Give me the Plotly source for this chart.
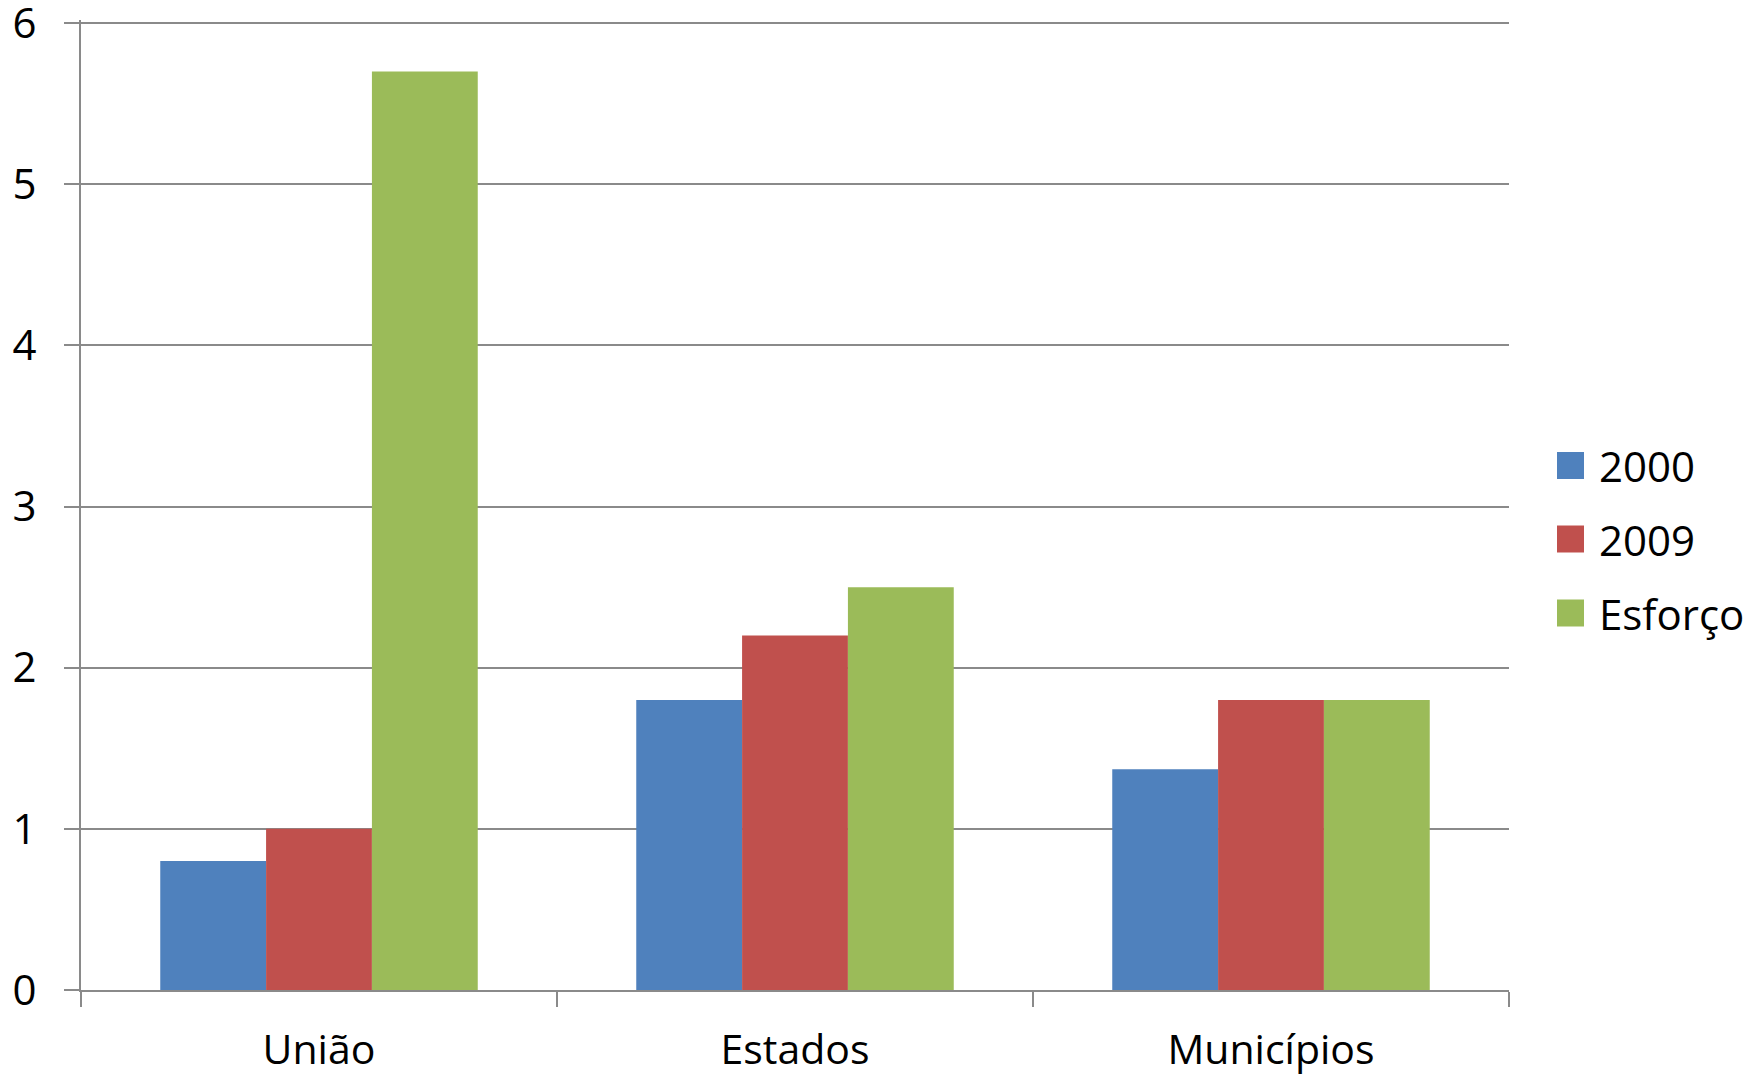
import plotly.graph_objects as go

categories = ["União", "Estados", "Municípios"]
series_names = ["2000", "2009", "Esforço"]
values_2000 = [0.8, 1.8, 1.37]
values_2009 = [1.0, 2.2, 1.8]
values_esforco = [5.7, 2.5, 1.8]
colors = ["#4F81BD", "#C0504D", "#9BBB59"]
y_ticks = [0, 1, 2, 3, 4, 5, 6]

W, H = 1757, 1077
L, R, T, B = 81, 248, 20, 87
FONT = "Open Sans"
GRID = "#8a8a8a"

fig = go.Figure()
for name, vals, col in zip(series_names, [values_2000, values_2009, values_esforco], colors):
    fig.add_trace(go.Bar(x=categories, y=vals, name=name, marker_color=col,
                         marker_line_width=0, showlegend=False))

pw = W - L - R
ph = H - T - B
def px_x(p):
    return (p - L) / pw
def px_y(p):
    return (H - B - p) / ph

shapes = []
annotations = []
legend_centers = [465.5, 539, 613]
for name, col, cy in zip(series_names, colors, legend_centers):
    shapes.append(dict(type="rect", xref="paper", yref="paper",
                       x0=px_x(1557), x1=px_x(1584), y0=px_y(cy + 13.5), y1=px_y(cy - 13.5),
                       fillcolor=col, line_width=0))
    annotations.append(dict(text=name, xref="paper", yref="paper", x=px_x(1597), y=px_y(cy),
                            xanchor="left", yanchor="middle", showarrow=False,
                            font=dict(family=FONT, size=42, color="#000000")))

fig.update_layout(
    width=W, height=H,
    margin=dict(l=L, r=R, t=T, b=B, pad=0, autoexpand=False),
    paper_bgcolor="white", plot_bgcolor="white",
    barmode="group", bargap=0.333, bargroupgap=0,
    showlegend=False,
    font=dict(family=FONT, size=42, color="#000000"),
    shapes=shapes, annotations=annotations,
    xaxis=dict(range=[-0.5, 2.5], showline=True, linecolor=GRID, linewidth=2,
               ticks="outside", tickson="boundaries", ticklen=15, tickcolor=GRID, tickwidth=2,
               showgrid=False, ticklabelstandoff=23, automargin=False,
               ticklabeloverflow="allow",
               tickfont=dict(family=FONT, size=41, color="#000000")),
    yaxis=dict(range=[0, 6.02], tickvals=y_ticks, showline=True, linecolor=GRID, linewidth=2,
               ticks="outside", ticklen=15, tickcolor=GRID, tickwidth=2,
               showgrid=True, gridcolor=GRID, gridwidth=2, zeroline=False,
               ticklabelstandoff=19, automargin=False, ticklabeloverflow="allow",
               tickfont=dict(family=FONT, size=42, color="#000000")),
)

fig.write_html("out.html")
